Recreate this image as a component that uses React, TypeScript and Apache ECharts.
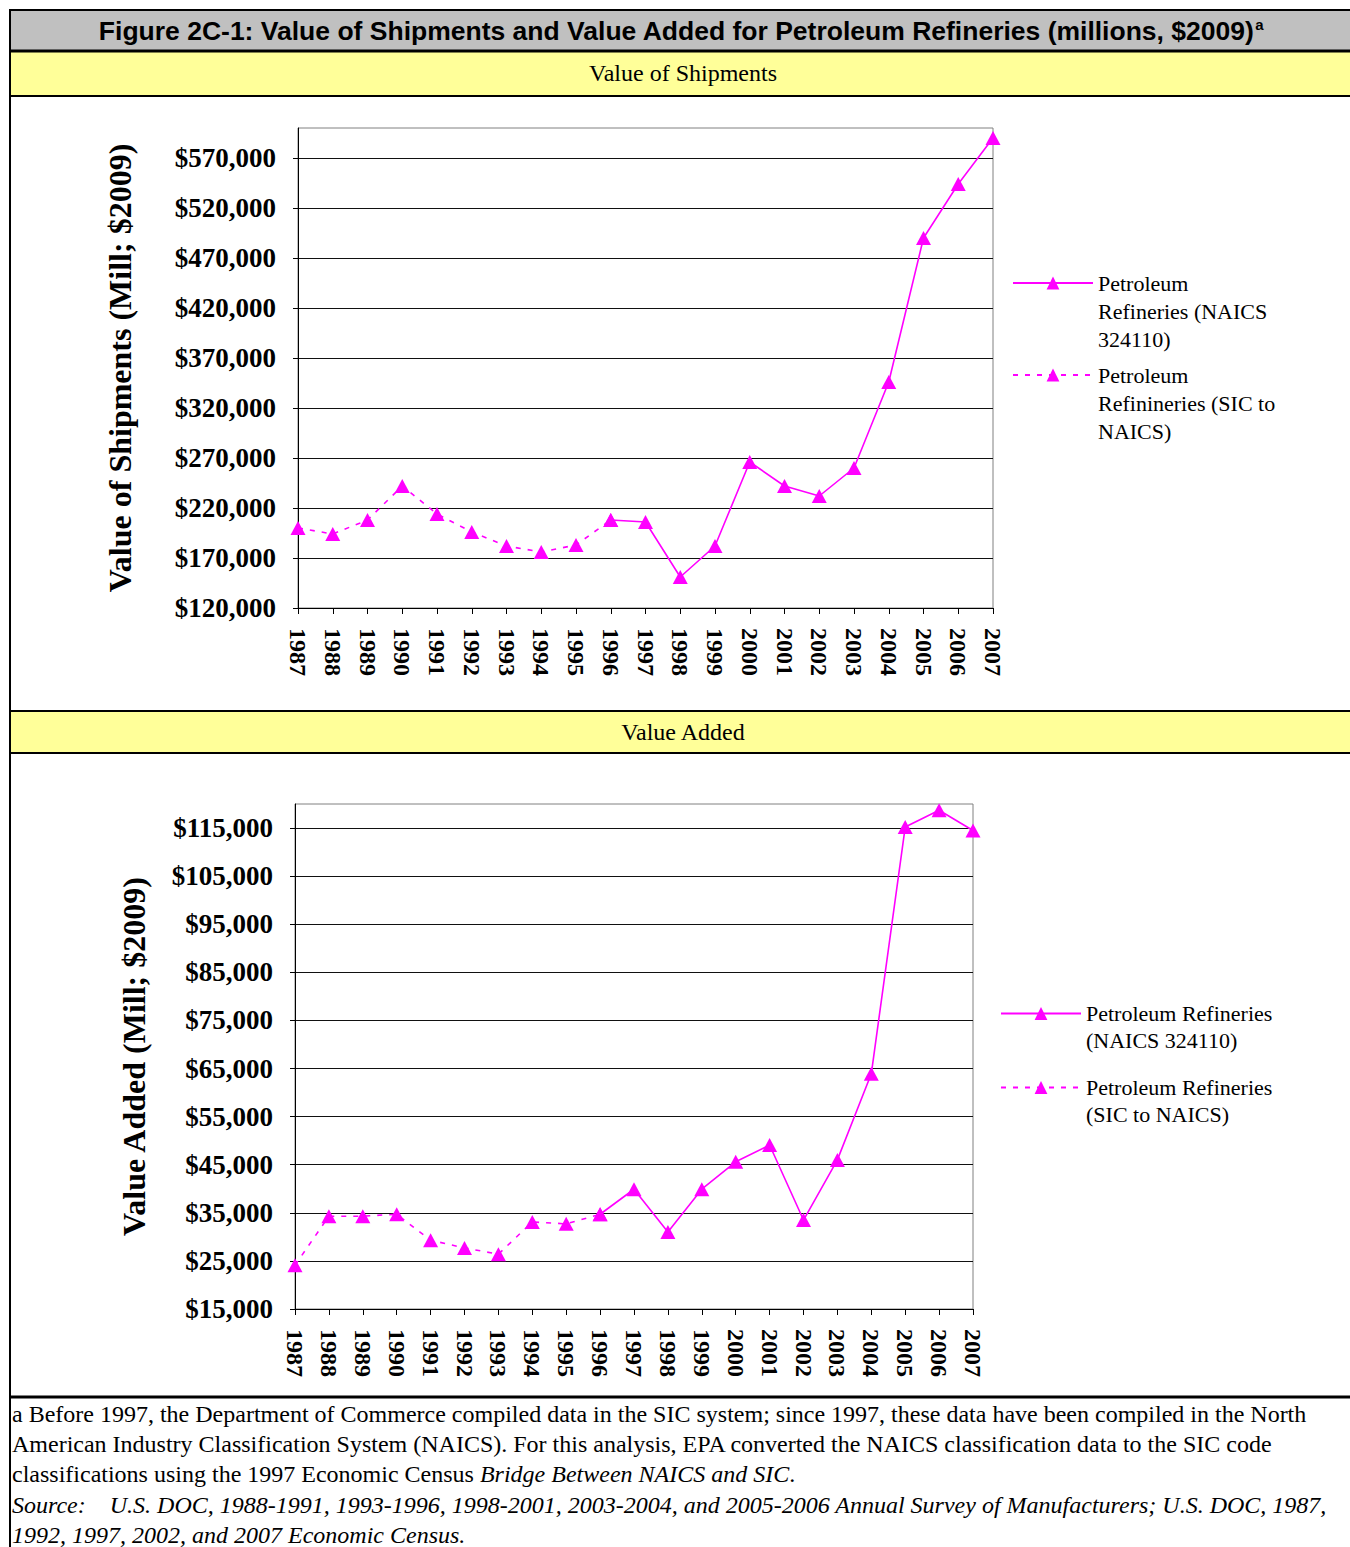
import React, { useEffect, useRef } from "react";
import * as echarts from "echarts";

const years = ["1987","1988","1989","1990","1991","1992","1993","1994","1995","1996","1997","1998","1999","2000","2001","2002","2003","2004","2005","2006","2007"];

// Value of shipments (millions, $2009)
const shipSICYears = ["1987","1988","1989","1990","1991","1992","1993","1994","1995","1996"];
const shipSIC = [200000, 194000, 208000, 242000, 214000, 196000, 182000, 176000, 183000, 208000];
const shipNAICSYears = ["1996","1997","1998","1999","2000","2001","2002","2003","2004","2005","2006","2007"];
const shipNAICS = [208000, 206000, 151000, 182000, 266000, 242000, 232000, 260000, 346000, 490000, 544000, 590000];
const shipTicks = [120000, 170000, 220000, 270000, 320000, 370000, 420000, 470000, 520000, 570000];

// Value added (millions, $2009)
const vaSICYears = ["1987","1988","1989","1990","1991","1992","1993","1994","1995","1996"];
const vaSIC = [24100, 34300, 34300, 34700, 29300, 27700, 26400, 33100, 32700, 34700];
const vaNAICSYears = ["1996","1997","1998","1999","2000","2001","2002","2003","2004","2005","2006","2007"];
const vaNAICS = [34700, 39900, 31000, 39900, 45600, 49100, 33500, 46000, 63900, 115200, 118700, 114500];
const vaTicks = [15000, 25000, 35000, 45000, 55000, 65000, 75000, 85000, 95000, 105000, 115000];

const nameNAICS = "Petroleum Refineries (NAICS 324110)";
const nameSIC1 = "Petroleum Refinineries (SIC to NAICS)";
const nameSIC2 = "Petroleum Refineries (SIC to NAICS)";

const MAG = "#ff00ff";
const SERIF = "Liberation Serif, Times New Roman, serif";
const SANS = "Liberation Sans, Arial, sans-serif";

function align(ys: string[], vals: number[]) {
  return years.map((y) => {
    const i = ys.indexOf(y);
    return i >= 0 ? vals[i] : null;
  });
}

const money = (v: number) => "$" + v.toLocaleString("en-US");

function xAxisCfg(gridIndex: number) {
  return {
    gridIndex,
    type: "category",
    data: years,
    boundaryGap: false,
    axisLine: { show: true, lineStyle: { color: "#000", width: 1 } },
    axisTick: { show: true, interval: 0, length: 6, lineStyle: { color: "#000" } },
    axisLabel: {
      interval: 0,
      rotate: -90,
      margin: 20,
      fontFamily: SERIF,
      fontWeight: "bold",
      fontSize: 24,
      color: "#000",
    },
    splitLine: { show: false },
  };
}

function yAxisCfg(gridIndex: number, min: number, max: number, ticks: number[], name: string, nameGap: number) {
  return {
    gridIndex,
    type: "value",
    min,
    max,
    name,
    nameLocation: "middle",
    nameGap,
    nameTextStyle: { fontFamily: SERIF, fontWeight: "bold", fontSize: 32, color: "#000" },
    axisLine: { show: true, lineStyle: { color: "#000", width: 1 } },
    axisTick: { show: true, length: 5, customValues: ticks, lineStyle: { color: "#000" } },
    axisLabel: {
      customValues: ticks,
      margin: 22,
      formatter: (v: number) => money(v),
      fontFamily: SERIF,
      fontWeight: "bold",
      fontSize: 27,
      color: "#000",
    },
    splitLine: { show: true, lineStyle: { color: "#111", width: 1 } },
  };
}

function lineSeries(name: string, idx: number, data: (number | null)[], dashed: boolean) {
  return {
    type: "line",
    name,
    xAxisIndex: idx,
    yAxisIndex: idx,
    data,
    symbol: "triangle",
    symbolSize: [15, 14],
    showAllSymbol: true,
    connectNulls: false,
    itemStyle: { color: MAG },
    lineStyle: { color: MAG, width: 1.6, type: dashed ? [5, 7] : "solid" },
    z: 5,
  };
}

const legendText = { fontFamily: SERIF, fontSize: 22, color: "#000" };

export default function App() {
  const ref = useRef<HTMLDivElement>(null);
  useEffect(() => {
    if (!ref.current) return;
    const chart = echarts.init(ref.current, null, { renderer: "svg" });
    const hline = (y: number, w: number, x1 = 9, x2 = 1350) => ({
      type: "line",
      shape: { x1, y1: y, x2, y2: y },
      style: { stroke: "#000", lineWidth: w },
      z: 10,
    });
    const footLine = (y: number, text: string, italic = false) => ({
      type: "text",
      x: 12,
      y,
      style: {
        text,
        fontFamily: SERIF,
        fontSize: 24,
        fontStyle: italic ? "italic" : "normal",
        fill: "#000",
        verticalAlign: "middle",
        rich: { i: { fontFamily: SERIF, fontSize: 24, fontStyle: "italic", fill: "#000" } },
      },
    });
    const option: any = {
      animation: false,
      backgroundColor: "#fff",
      graphic: [
        { type: "rect", shape: { x: 10, y: 10, width: 1340, height: 40 }, style: { fill: "#c0c0c0" }, z: 1 },
        { type: "rect", shape: { x: 10, y: 52, width: 1340, height: 44 }, style: { fill: "#ffff99" }, z: 1 },
        { type: "rect", shape: { x: 10, y: 711, width: 1340, height: 42 }, style: { fill: "#ffff99" }, z: 1 },
        hline(10, 2),
        hline(51, 3),
        hline(96, 2),
        hline(711, 2),
        hline(753, 2),
        hline(1397, 3),
        { type: "line", shape: { x1: 10, y1: 9, x2: 10, y2: 1547 }, style: { stroke: "#000", lineWidth: 2 }, z: 10 },
        {
          type: "text",
          x: 681,
          y: 31,
          style: {
            text: "Figure 2C-1: Value of Shipments and Value Added for Petroleum Refineries (millions, $2009){sup|a}",
            fontFamily: SANS,
            fontWeight: "bold",
            fontSize: 26.5,
            fill: "#000",
            align: "center",
            verticalAlign: "middle",
            rich: { sup: { fontFamily: SANS, fontWeight: "bold", fontSize: 15, verticalAlign: "top", padding: [0, 0, 14, 1] } },
          },
          z: 11,
        },
        {
          type: "text",
          x: 683,
          y: 73,
          style: { text: "Value of Shipments", fontFamily: SERIF, fontSize: 24, fill: "#000", align: "center", verticalAlign: "middle" },
          z: 11,
        },
        {
          type: "text",
          x: 683,
          y: 732,
          style: { text: "Value Added", fontFamily: SERIF, fontSize: 24, fill: "#000", align: "center", verticalAlign: "middle" },
          z: 11,
        },
        footLine(1414, "a Before 1997, the Department of Commerce compiled data in the SIC system; since 1997, these data have been compiled in the North"),
        footLine(1444, "American Industry Classification System (NAICS). For this analysis, EPA converted the NAICS classification data to the SIC code"),
        footLine(1474, "classifications using the 1997 Economic Census {i|Bridge Between NAICS and SIC}."),
        footLine(1505, "Source:    U.S. DOC, 1988-1991, 1993-1996, 1998-2001, 2003-2004, and 2005-2006 Annual Survey of Manufacturers; U.S. DOC, 1987,", true),
        footLine(1535, "1992, 1997, 2002, and 2007 Economic Census.", true),
      ],
      grid: [
        { left: 298, top: 128, width: 695, height: 480, show: true, borderColor: "#808080", borderWidth: 1, backgroundColor: "transparent" },
        { left: 295, top: 804, width: 678, height: 505, show: true, borderColor: "#808080", borderWidth: 1, backgroundColor: "transparent" },
      ],
      xAxis: [xAxisCfg(0), xAxisCfg(1)],
      yAxis: [
        yAxisCfg(0, 120000, 600000, shipTicks, "Value of Shipments (Mill; $2009)", 162),
        yAxisCfg(1, 15000, 120000, vaTicks, "Value Added (Mill; $2009)", 145),
      ],
      legend: [
        {
          left: 1012, top: 213, padding: 0, orient: "vertical", itemWidth: 80, itemHeight: 16,
          data: [nameNAICS],
          formatter: () => "\n\nPetroleum\nRefineries (NAICS\n324110)",
          textStyle: { ...legendText, lineHeight: 28 },
        },
        {
          left: 1012, top: 305, padding: 0, orient: "vertical", itemWidth: 80, itemHeight: 16,
          data: [nameSIC1],
          formatter: () => "\n\nPetroleum\nRefinineries (SIC to\nNAICS)",
          textStyle: { ...legendText, lineHeight: 28 },
        },
        {
          left: 1000, top: 973, padding: 0, orient: "vertical", itemWidth: 80, itemHeight: 16,
          data: [nameNAICS],
          formatter: () => "\nPetroleum Refineries\n(NAICS 324110)",
          textStyle: { ...legendText, lineHeight: 27 },
        },
        {
          left: 1000, top: 1047, padding: 0, orient: "vertical", itemWidth: 80, itemHeight: 16,
          data: [nameSIC2],
          formatter: () => "\nPetroleum Refineries\n(SIC to NAICS)",
          textStyle: { ...legendText, lineHeight: 27 },
        },
      ],
      series: [
        lineSeries(nameNAICS, 0, align(shipNAICSYears, shipNAICS), false),
        lineSeries(nameSIC1, 0, align(shipSICYears, shipSIC), true),
        lineSeries(nameNAICS, 1, align(vaNAICSYears, vaNAICS), false),
        lineSeries(nameSIC2, 1, align(vaSICYears, vaSIC), true),
      ],
    };
    chart.setOption(option);
    return () => chart.dispose();
  }, []);
  return (
    <div
      ref={ref}
      style={{ position: "absolute", left: 0, top: 0, width: 1350, height: 1547, background: "#fff" }}
    />
  );
}
